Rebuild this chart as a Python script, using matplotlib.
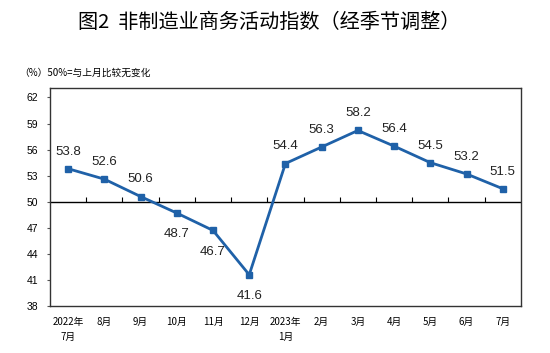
import matplotlib
matplotlib.use("Agg")
import matplotlib.pyplot as plt
import numpy as np

plt.rcParams['font.family'] = ['Noto Sans CJK SC', 'DejaVu Sans']

# données
mois = ["2022年\n7月", "8月", "9月", "10月", "11月", "12月", "2023年\n1月",
        "2月", "3月", "4月", "5月", "6月", "7月"]
indice = [53.8, 52.6, 50.6, 48.7, 46.7, 41.6, 54.4, 56.3, 58.2, 56.4, 54.5, 53.2, 51.5]
yticks = [38, 41, 44, 47, 50, 53, 56, 59, 62]

couleur = "#1f61a8"

fig = plt.figure(figsize=(5.5, 3.53), dpi=100)
ax = fig.add_axes([0.091, 0.133, 0.856, 0.618])

x = np.arange(len(indice))
ax.plot(x, indice, color=couleur, lw=2, marker="s", markersize=4.5, zorder=3)

# étiquettes de valeurs : en dessous pour les points sous 50
for xi, v in zip(x, indice):
    if v < 50:
        ax.annotate(f"{v}", (xi, v), xytext=(0, -11), textcoords="offset points",
                    ha="center", va="top", fontsize=9.5, family="Liberation Sans",
                    color="#222222")
    else:
        ax.annotate(f"{v}", (xi, v), xytext=(0, 8), textcoords="offset points",
                    ha="center", va="bottom", fontsize=9.5, family="Liberation Sans",
                    color="#222222")

# ligne des 50 avec graduations entre catégories
ax.axhline(50, color="black", lw=1, zorder=2)
ax.vlines(x[:-1] + 0.5, 50, 50.6, color="black", lw=0.8)

ax.set_xlim(-0.5, len(indice) - 0.5)
ax.set_ylim(38, 63.1)
ax.set_yticks(yticks)
ax.set_yticklabels([str(t) for t in yticks], fontsize=7.5, family="Liberation Sans")
ax.set_xticks(x)
ax.set_xticklabels(mois, fontsize=7, linespacing=1.6)
ax.tick_params(axis="x", length=0, pad=8)
ax.tick_params(axis="y", length=2.5, width=0.8, pad=6, color="#555555")
for s in ax.spines.values():
    s.set_linewidth(1)
    s.set_color("#333333")

fig.text(0.49, 0.935, "图2  非制造业商务活动指数（经季节调整）", ha="center", va="center",
         fontsize=14.5, weight="medium")
fig.text(0.035, 0.795, "（%）50%=与上月比较无变化", ha="left", va="center", fontsize=7)

fig.savefig("out.png", dpi=100)
